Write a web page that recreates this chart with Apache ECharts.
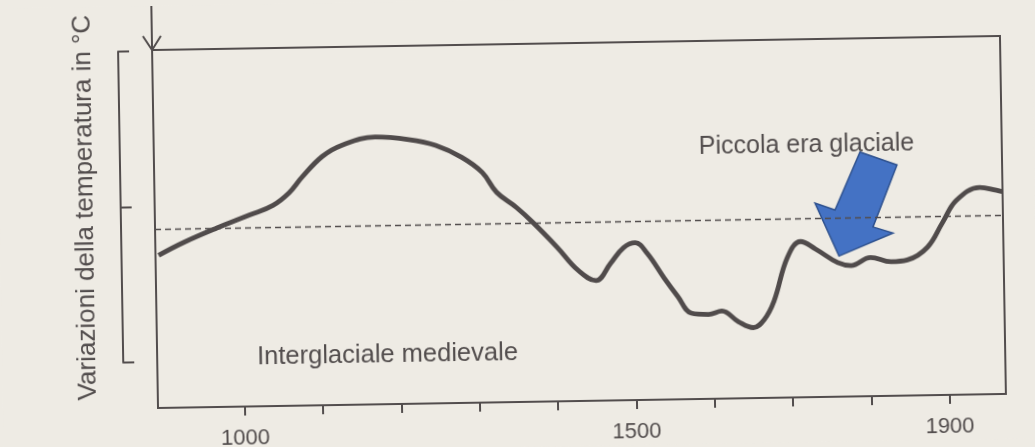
<!DOCTYPE html>
<html>
<head>
<meta charset="utf-8">
<script src="https://cdn.jsdelivr.net/npm/echarts@6/dist/echarts.min.js"></script>
<style>
  html, body { margin: 0; padding: 0; background: #eeebe4; overflow: hidden; }
  /* the scanned page is slightly tilted */
  #container { width: 1035px; height: 447px; transform: rotate(-0.95deg); transform-origin: 50% 50%; }
</style>
</head>
<body>
<div id="container"></div>
<script>
// years and temperature deviation (°C, 0 = dashed reference line)
const years = [893, 925, 968, 1010, 1040, 1061, 1078, 1104, 1129, 1172, 1215, 1249, 1282, 1308, 1326,
  1351, 1372, 1402, 1428, 1451, 1470, 1487, 1502, 1517, 1538, 1555, 1572, 1594, 1611, 1632, 1651,
  1665, 1678, 1696, 1713, 1732, 1760, 1777, 1802, 1828, 1849, 1875, 1895, 1913, 1943, 1964, 1972];
const deviation = [-0.17, -0.09, 0.0, 0.08, 0.14, 0.22, 0.32, 0.45, 0.52, 0.57, 0.55, 0.51, 0.43, 0.33, 0.2,
  0.1, 0.0, -0.16, -0.31, -0.38, -0.27, -0.17, -0.14, -0.21, -0.37, -0.49, -0.6, -0.61, -0.59, -0.66, -0.7,
  -0.65, -0.53, -0.25, -0.15, -0.2, -0.29, -0.31, -0.26, -0.29, -0.28, -0.2, -0.04, 0.1, 0.18, 0.16, 0.15];
const tickYears = [1000, 1100, 1200, 1300, 1400, 1500, 1600, 1700, 1800, 1900];
const labelYears = [1000, 1500, 1900];
const bracketTicks = [0, 1, 2];

const ink = '#524d4d';
const font = '"Liberation Sans", Arial, sans-serif';

const myChart = echarts.init(document.getElementById('container'));

const option = {
  backgroundColor: '#eeebe4',
  animation: false,
  grid: [
    { left: 155, right: 32, top: 44, bottom: 45, show: true, borderColor: ink, borderWidth: 2 },
    { left: 121, top: 45, width: 20, height: 311 }
  ],
  xAxis: [
    {
      type: 'value', min: 889, max: 1972,
      axisLine: { show: true, onZero: false, lineStyle: { color: ink, width: 2 } },
      axisTick: { show: true, customValues: tickYears, length: 9, lineStyle: { color: ink, width: 2 } },
      axisLabel: {
        customValues: labelYears, margin: 21, fontSize: 22, color: ink, fontFamily: font,
        formatter: v => String(v)
      },
      splitLine: { show: false }
    },
    { type: 'value', gridIndex: 1, show: false }
  ],
  yAxis: [
    { type: 'value', min: -1.155, max: 1.155, show: false },
    {
      type: 'value', gridIndex: 1, min: bracketTicks[0], max: bracketTicks[2], interval: 1,
      axisLine: { show: true, lineStyle: { color: ink, width: 2 } },
      axisTick: { show: true, inside: true, length: 11, lineStyle: { color: ink, width: 2 } },
      axisLabel: { show: false },
      splitLine: { show: false },
      name: 'Variazioni della temperatura in °C',
      nameLocation: 'middle',
      nameRotate: 90,
      nameGap: 22,
      nameTextStyle: { fontSize: 26, color: ink, fontFamily: font }
    }
  ],
  series: [
    {
      type: 'line',
      data: years.map((y, i) => [y, deviation[i]]),
      smooth: 0.4,
      showSymbol: false,
      lineStyle: { color: '#504b4b', width: 4.8 },
      markLine: {
        silent: true,
        symbol: 'none',
        label: { show: false },
        lineStyle: { color: ink, type: [6, 4], width: 1.3 },
        data: [{ yAxis: 0 }]
      }
    }
  ],
  graphic: [
    { type: 'line', shape: { x1: 155, y1: -20, x2: 155, y2: 44 }, style: { stroke: ink, lineWidth: 2 } },
    { type: 'polyline', shape: { points: [[146, 30], [155, 44], [164, 30]] }, style: { stroke: ink, lineWidth: 2, fill: null } },
    {
      type: 'text', x: 700, y: 150,
      style: { text: 'Piccola era glaciale', font: '25px ' + font, fill: ink, verticalAlign: 'middle' }
    },
    {
      type: 'text', x: 255, y: 353,
      style: { text: 'Interglaciale medievale', font: '25.5px ' + font, fill: ink, verticalAlign: 'middle' }
    },
    {
      // blue block arrow pasted on top of the scan (not tilted)
      type: 'group', rotation: -0.0166, originX: 517.5, originY: 223.5,
      children: [{
        type: 'polygon',
        shape: { points: [[860, 152], [897, 165], [873, 227], [893, 233], [839, 256], [815, 203], [835, 210]] },
        style: { fill: '#4472c4', stroke: '#2f528f', lineWidth: 1.5 }
      }]
    }
  ]
};

myChart.setOption(option);
</script>
</body>
</html>
